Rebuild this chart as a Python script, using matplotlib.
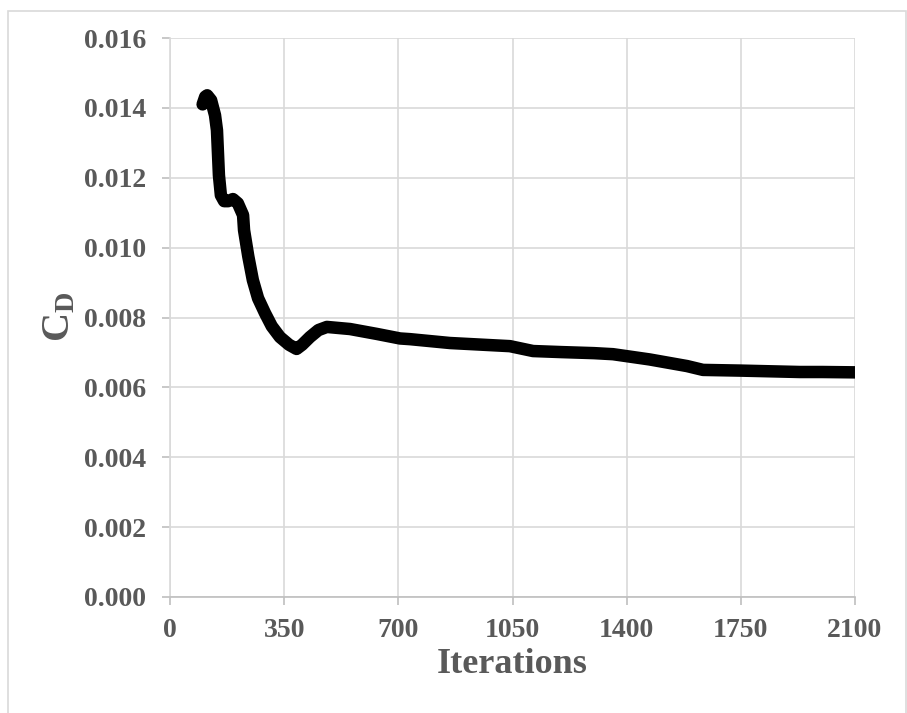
import matplotlib
matplotlib.use("Agg")
import matplotlib.pyplot as plt
from matplotlib.patches import Rectangle

# drag coefficient history
iterations = [100, 108, 114, 126, 138, 144, 150, 156, 166, 178, 193, 208, 224,
              227, 240, 254, 270, 291, 312, 337, 365, 388, 405, 429, 455, 481,
              552, 634, 705, 736, 858, 1042, 1113, 1200, 1300, 1358, 1470, 1585,
              1634, 1750, 1931, 2000, 2100]
cd = [0.01410, 0.01432, 0.01436, 0.01422, 0.01379, 0.01336, 0.01207, 0.01150,
      0.01133, 0.01133, 0.01139, 0.01127, 0.01093, 0.01050, 0.00975, 0.00907,
      0.00855, 0.00813, 0.00775, 0.00744, 0.00722, 0.00710, 0.00722, 0.00744,
      0.00764, 0.00773, 0.00767, 0.00753, 0.00740, 0.00738, 0.00727, 0.00718,
      0.00704, 0.00701, 0.00698, 0.00695, 0.00680, 0.00661, 0.00650, 0.00648,
      0.00644, 0.00644, 0.00643]

x_ticks = [0, 350, 700, 1050, 1400, 1750, 2100]
y_ticks = [0.000, 0.002, 0.004, 0.006, 0.008, 0.010, 0.012, 0.014, 0.016]

plt.rcParams['font.family'] = ['Liberation Serif', 'DejaVu Serif']
plt.rcParams['font.weight'] = 'bold'
plt.rcParams['mathtext.fontset'] = 'custom'
plt.rcParams['mathtext.bf'] = 'Liberation Serif:bold'
plt.rcParams['mathtext.rm'] = 'Liberation Serif:bold'

text_col = '#595959'
grid_col = '#d9d9d9'
axis_col = '#bfbfbf'

fig = plt.figure(figsize=(9.07, 7.13), dpi=100, facecolor='white')
fig.patches.append(Rectangle((8 / 907, -0.05), (906 - 8) / 907, 1.05 - 11 / 713,
                             transform=fig.transFigure, fill=False,
                             edgecolor=grid_col, linewidth=1.2))

ax = fig.add_axes([170 / 907, 1 - 597 / 713, (855 - 170) / 907, (597 - 38) / 713])
ax.plot(iterations, cd, color='black', linewidth=9, solid_capstyle='round',
        solid_joinstyle='round', zorder=3)

ax.set_xlim(0, 2100)
ax.set_ylim(0, 0.016)
ax.set_xticks(x_ticks)
ax.set_yticks(y_ticks)
ax.set_xticklabels([str(v) for v in x_ticks])
ax.set_yticklabels(['%.3f' % v for v in y_ticks])
ax.grid(True, color=grid_col, linewidth=1.2, zorder=0)
ax.set_axisbelow(True)

for s in ['top', 'right']:
    ax.spines[s].set_visible(False)
ax.spines['left'].set_color(grid_col)
ax.spines['bottom'].set_color(axis_col)
ax.spines['left'].set_linewidth(1.2)
ax.spines['bottom'].set_linewidth(1.2)

ax.tick_params(axis='both', colors=axis_col, length=6, width=1.2,
               labelsize=20, labelcolor=text_col)
ax.tick_params(axis='y', pad=11)
ax.tick_params(axis='x', pad=9)
for lbl in ax.get_xticklabels() + ax.get_yticklabels():
    lbl.set_fontweight('bold')

ax.set_xlabel('Iterations', fontsize=26, fontweight='bold', color=text_col, labelpad=4)
fig.text(60 / 907, 1 - 317 / 713, r'$\mathbf{C_D}$', rotation=90, fontsize=29,
         color=text_col, ha='center', va='center')

plt.savefig('out.png', dpi=100, facecolor='white')
plt.close()
